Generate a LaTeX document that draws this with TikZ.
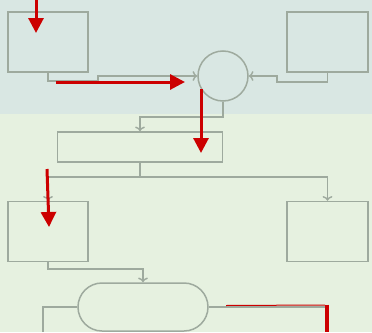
\documentclass[tikz,border=0pt]{standalone}
\usetikzlibrary{positioning,arrows.meta}

\definecolor{bgTop}{RGB}{217,231,227}
\definecolor{bgLow}{RGB}{230,241,224}
\definecolor{lineGray}{RGB}{158,170,158}
\definecolor{markRed}{RGB}{204,0,0}

\begin{document}
\begin{tikzpicture}[x=1pt, y=-1pt, >=To,
    box/.style={draw=lineGray, line width=1.5pt, minimum width=80pt, minimum height=60pt, inner sep=0pt},
    conn/.style={draw=lineGray, line width=1.4pt},
    redarrow/.style={draw=markRed, line width=3pt, -{Triangle[width=15pt,length=15pt]}}]

        % two background bands
        \fill[bgTop] (0,0) rectangle (372,114);
        \fill[bgLow] (0,114) rectangle (372,332);
        \useasboundingbox (0,0) rectangle (372,332);

        % blocks
        \node[box] (boxTL) at (48,42) {};
        \node[box, minimum width=81pt] (boxTR) at (327.5,42) {};
        \node[circle, draw=lineGray, line width=1.5pt, minimum size=50pt, inner sep=0pt] (merge) at (223,76) {};
        \node[box, minimum width=165pt, minimum height=30pt] (boxMid) at (140,147) {};
        \node[box] (boxL) at (48,231.5) {};
        \node[box, minimum width=81pt] (boxR) at (327.5,231.5) {};
        \node[draw=lineGray, line width=1.5pt, rounded corners=24pt, minimum width=130pt, minimum height=48pt, inner sep=0pt] (term) at (143,307) {};

        % grey connectors
        \draw[conn,->] (boxTL.south) |- (98,81) |- (merge.west);
        \draw[conn,->] (boxTR.south) |- (277,82) |- (merge.east);
        \draw[conn,->] (merge.south) |- (140,117) -- (boxMid.north);
        \coordinate (split) at (140,177);
        \draw[conn] (boxMid.south) -- (split);
        \draw[conn,->] (split) -| (boxL.north);
        \draw[conn,->] (split) -| (boxR.north);
        \draw[conn,->] (boxL.south) |- (143,269) -- (term.north);
        \coordinate (outL) at (43,332);
        \coordinate (outR) at (327,332);
        \draw[conn] (term.west) -| (outL);
        \draw[conn] (term.east) -| (outR);

        % red marks
        \coordinate (m1a) at (36,0);
        \coordinate (m1b) at (36,33);
        \coordinate (m2a) at (56,82);
        \coordinate (m2b) at (185,82);
        \coordinate (m3a) at (201,89);
        \coordinate (m3b) at (201,153);
        \coordinate (m4a) at (47,169);
        \coordinate (m4b) at (49,227);
        \draw[redarrow] (m1a) -- (m1b);
        \draw[redarrow] (m2a) -- (m2b);
        \draw[redarrow] (m3a) -- (m3b);
        \draw[redarrow] (m4a) -- (m4b);
        \coordinate (m5a) at (226,305.5);
        \coordinate (m5b) at (325,305);
        \draw[markRed, line width=1pt] (m5a) -- (m5b);
        \draw[markRed, line width=4pt] (327,304.5) -- (outR);

    \end{tikzpicture}
\end{document}
